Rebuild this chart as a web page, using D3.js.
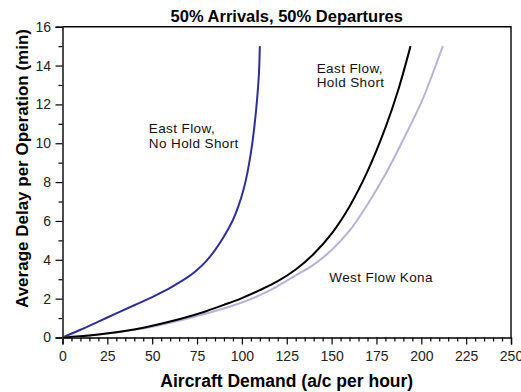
<!DOCTYPE html>
<html>
<head>
<meta charset="utf-8">
<script src="https://cdn.jsdelivr.net/npm/d3@7"></script>
<style>
  html, body { margin: 0; padding: 0; background: #fff; }
  svg { display: block; font-family: "Liberation Sans", Arial, sans-serif; }
</style>
</head>
<body>
<svg id="chart" width="521" height="392"></svg>
<script>
// Delay curves: demand (a/c per hour) vs average delay (min)
const eastNoHoldDemand = [0, 10, 20, 30, 40, 50, 60, 65, 70, 75, 80, 85, 90, 95, 98, 101, 103, 105, 107, 108.5, 109.5, 110];
const eastNoHoldDelay  = [0, 0.4, 0.82, 1.24, 1.66, 2.08, 2.55, 2.83, 3.12, 3.48, 3.92, 4.5, 5.2, 6.05, 6.75, 7.65, 8.45, 9.5, 10.9, 12.3, 13.6, 15];

const eastHoldDemand = [0, 10, 20, 30, 40, 50, 60, 70, 80, 90, 100, 110, 120, 130, 140, 150, 160, 170, 180, 187, 194];
const eastHoldDelay  = [0, 0.07, 0.16, 0.27, 0.41, 0.6, 0.82, 1.07, 1.35, 1.68, 2.03, 2.44, 2.9, 3.5, 4.3, 5.35, 6.75, 8.55, 10.8, 12.7, 15];

const westKonaDemand = [0, 10, 25, 50, 75, 100, 110, 120, 130, 140, 150, 160, 170, 180, 190, 200, 206, 212];
const westKonaDelay  = [0, 0.06, 0.2, 0.55, 1.1, 1.8, 2.18, 2.65, 3.2, 3.75, 4.5, 5.5, 6.85, 8.4, 10.2, 12.1, 13.5, 15];

const xTicks = [0, 25, 50, 75, 100, 125, 150, 175, 200, 225, 250];
const yTicks = [0, 2, 4, 6, 8, 10, 12, 14, 16];

const series = [
  { name: "East Flow, No Hold Short", xs: eastNoHoldDemand, ys: eastNoHoldDelay, color: "#2d3091" },
  { name: "West Flow Kona", xs: westKonaDemand, ys: westKonaDelay, color: "#b6b2da" },
  { name: "East Flow, Hold Short", xs: eastHoldDemand, ys: eastHoldDelay, color: "#000000" }
];

const svg = d3.select("#chart");
const plot = { left: 62.5, right: 511, top: 26.7, bottom: 337.5 };

const x = d3.scaleLinear().domain([0, 250]).range([plot.left, plot.right]);
const y = d3.scaleLinear().domain([0, 16]).range([plot.bottom, plot.top]);

// minor ticks
const xMinor = d3.range(0, 251, 5).filter(v => v % 25 !== 0);
const yMinor = d3.range(0, 17, 1).filter(v => v % 2 !== 0);

const axisG = svg.append("g");

axisG.append("g")
  .attr("transform", `translate(0,${plot.bottom})`)
  .call(d3.axisBottom(x).tickValues(xMinor).tickSize(4).tickFormat(""))
  .call(g => g.select(".domain").remove());
axisG.append("g")
  .attr("transform", `translate(${plot.left},0)`)
  .call(d3.axisLeft(y).tickValues(yMinor).tickSize(4).tickFormat(""))
  .call(g => g.select(".domain").remove());

axisG.append("g")
  .attr("transform", `translate(0,${plot.bottom})`)
  .call(d3.axisBottom(x).tickValues(xTicks).tickSize(7).tickPadding(6.5).tickFormat(d3.format("d")));
axisG.append("g")
  .attr("transform", `translate(${plot.left},0)`)
  .call(d3.axisLeft(y).tickValues(yTicks).tickSize(7).tickPadding(4.5).tickFormat(d3.format("d")));

axisG.selectAll(".tick line").attr("stroke", "#000").attr("stroke-width", 1.2);
axisG.selectAll(".domain").attr("stroke", "#000").attr("stroke-width", 1.4);
axisG.selectAll(".tick text")
  .attr("font-family", "Liberation Sans, Arial, sans-serif")
  .attr("font-size", 14)
  .attr("fill", "#222");

// frame: top and right edges
svg.append("path")
  .attr("d", `M${plot.left},${plot.top}H${plot.right}V${plot.bottom}`)
  .attr("fill", "none")
  .attr("stroke", "#000")
  .attr("stroke-width", 1.4);

// curves
const line = d3.line()
  .x(d => x(d[0]))
  .y(d => y(d[1]))
  .curve(d3.curveCatmullRom.alpha(0.5));

svg.append("g").selectAll("path")
  .data(series)
  .join("path")
  .attr("d", s => line(s.xs.map((v, i) => [v, s.ys[i]])))
  .attr("fill", "none")
  .attr("stroke", s => s.color)
  .attr("stroke-width", 2);

// curve labels
const labels = [
  { lines: ["East Flow,", "No Hold Short"], at: [48.1, 10.52] },
  { lines: ["East Flow,", "Hold Short"], at: [141.7, 13.64] },
  { lines: ["West Flow Kona"], at: [148.7, 2.86] }
];
labels.forEach(l => {
  const t = svg.append("text")
    .attr("x", x(l.at[0]))
    .attr("y", y(l.at[1]))
    .attr("font-size", 13.5)
    .attr("letter-spacing", 0.4)
    .attr("fill", "#111");
  l.lines.forEach((s, i) => {
    t.append("tspan").attr("x", x(l.at[0])).attr("dy", i === 0 ? 0 : 14.5).text(s);
  });
});

// titles
svg.append("text")
  .attr("x", (plot.left + plot.right) / 2)
  .attr("y", 22)
  .attr("text-anchor", "middle")
  .attr("font-weight", "bold")
  .attr("font-size", 16.5)
  .text("50% Arrivals, 50% Departures");

svg.append("text")
  .attr("x", (plot.left + plot.right) / 2)
  .attr("y", 387)
  .attr("text-anchor", "middle")
  .attr("font-weight", "bold")
  .attr("font-size", 17.5)
  .text("Aircraft Demand (a/c per hour)");

svg.append("text")
  .attr("transform", `translate(27.5,168.5) rotate(-90)`)
  .attr("text-anchor", "middle")
  .attr("font-weight", "bold")
  .attr("font-size", 17)
  .text("Average Delay per Operation (min)");
</script>
</body>
</html>
